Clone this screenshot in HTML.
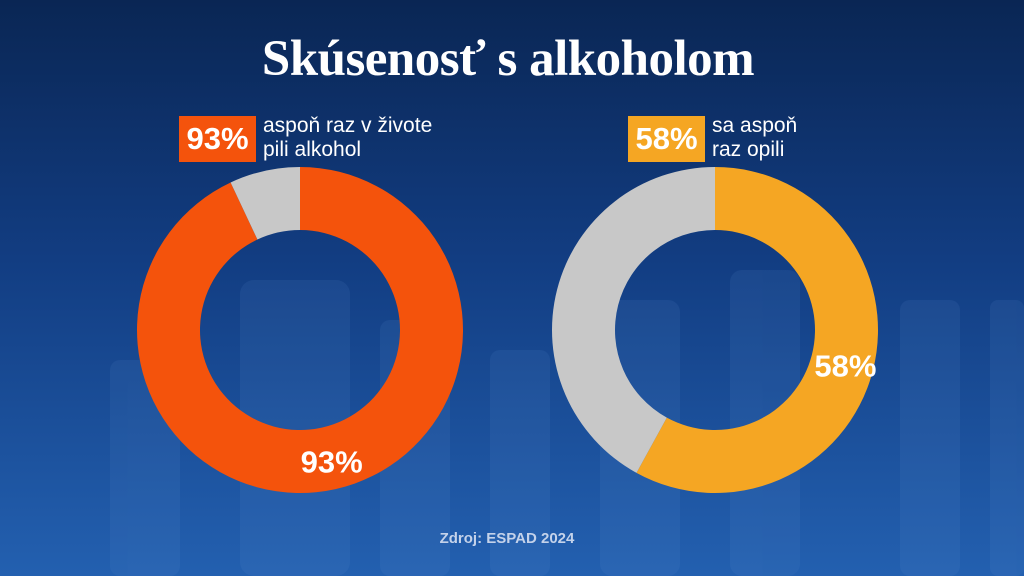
<!DOCTYPE html>
<html><head><meta charset="utf-8"><style>
body{margin:0;width:1024px;height:576px;overflow:hidden;font-family:"Liberation Sans",sans-serif}
#bg{position:absolute;left:0;top:0;width:1024px;height:576px;background:linear-gradient(180deg,#0a2654 0%,#123d82 45%,#2360b0 100%)}
.t{position:absolute;color:#fff}
</style></head><body>
<div id="bg"></div>
<svg width="1024" height="576" style="position:absolute;left:0;top:0">
<g fill="#5d8fd0" opacity="0.12">
<rect x="110" y="360" width="70" height="216" rx="10"/><rect x="240" y="280" width="110" height="296" rx="14"/>
<rect x="490" y="350" width="60" height="226" rx="10"/><rect x="600" y="300" width="80" height="276" rx="12"/>
<rect x="730" y="270" width="70" height="306" rx="12"/><rect x="900" y="300" width="60" height="276" rx="10"/>
<rect x="990" y="300" width="34" height="276" rx="8"/><rect x="380" y="320" width="70" height="256" rx="10"/>
</g></svg>
<div class="t" style="left:0;width:1016px;top:30px;text-align:center;font-family:'Liberation Serif',serif;font-weight:bold;font-size:51px;letter-spacing:-0.5px">Skúsenosť s alkoholom</div>
<div class="t" style="left:179px;top:116px;width:77px;height:46px;background:#f4530c;font-weight:bold;font-size:31px;line-height:46px;text-align:center">93%</div>
<div class="t" style="left:263px;top:114px;font-size:21px;line-height:24px">aspoň raz v živote<br>pili alkohol</div>
<div class="t" style="left:628px;top:116px;width:77px;height:46px;background:#f5a623;font-weight:bold;font-size:31px;line-height:46px;text-align:center">58%</div>
<div class="t" style="left:712px;top:114px;font-size:21px;line-height:24px">sa aspoň<br>raz opili</div>
<svg id="ch" width="1024" height="576" style="position:absolute;left:0;top:0"></svg>
<div class="t" style="left:0;width:1014px;top:530px;text-align:center;font-size:15px;font-weight:bold;color:#c4d2ea">Zdroj: ESPAD 2024</div>
<script>
const labels=["pili alkohol","opili sa"];
const values=[93,58];
const colors=["#f4530c","#f5a623"];
const centersX=[300,715];
const cy=330,R=163,r=100,NS="http://www.w3.org/2000/svg",svg=document.getElementById('ch');
function pt(cx,rad,f){const a=2*Math.PI*f-Math.PI/2;return [cx+rad*Math.cos(a),cy+rad*Math.sin(a)];}
function arc(cx,f0,f1){if(f1-f0>=0.9999)f1=f0+0.9999;const l=(f1-f0)>0.5?1:0;
const a=pt(cx,R,f0),b=pt(cx,R,f1),c=pt(cx,r,f1),d=pt(cx,r,f0);
return `M${a}A${R},${R} 0 ${l} 1 ${b}L${c}A${r},${r} 0 ${l} 0 ${d}Z`;}
values.forEach((v,i)=>{const cx=centersX[i],f=v/100;
const p=document.createElementNS(NS,'path');p.setAttribute('d',arc(cx,0,f));p.setAttribute('fill',colors[i]);

svg.appendChild(p);
const q=document.createElementNS(NS,'path');q.setAttribute('d',arc(cx,f,1));q.setAttribute('fill','#c8c8c8');

svg.appendChild(q);
const m=pt(cx,(R+r)/2,f/2);const t=document.createElementNS(NS,'text');
t.setAttribute('x',m[0]+3);t.setAttribute('y',m[1]+14);t.setAttribute('text-anchor','middle');t.setAttribute('fill','#fff');
t.setAttribute('font-size','31');t.setAttribute('font-weight','bold');t.setAttribute('font-family','Liberation Sans, sans-serif');
t.textContent=v+'%';

svg.appendChild(t);});
</script>
</body></html>
